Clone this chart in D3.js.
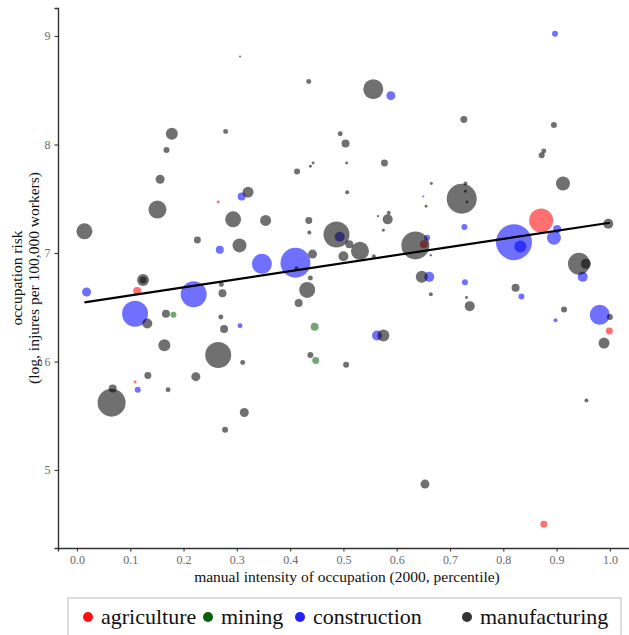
<!DOCTYPE html>
<html>
<head>
<meta charset="utf-8">
<script src="https://cdn.jsdelivr.net/npm/d3@7"></script>
<style>
  body { margin: 0; background: #fff; }
  svg { display: block; font-family: "Liberation Serif", "DejaVu Serif", serif; }
</style>
</head>
<body>
<svg id="chart" width="629" height="635"></svg>
<script>
// [manual intensity percentile, log risk, workers (thousands)]
const agriculture = [
  [0.265, 7.47, 22], [0.871, 7.30, 1440], [0.651, 7.08, 160], [0.113, 6.65, 160],
  [0.109, 5.81, 22], [0.999, 6.28, 122], [0.876, 4.50, 122]
];
const mining = [
  [0.181, 6.43, 90], [0.446, 6.32, 160], [0.448, 6.01, 122]
];
const construction = [
  [0.897, 9.02, 90], [0.589, 8.45, 202], [0.309, 7.52, 160], [0.268, 7.03, 160],
  [0.347, 6.90, 1000], [0.410, 6.91, 2250], [0.493, 7.15, 250], [0.650, 7.52, 10],
  [0.727, 7.24, 90], [0.820, 7.10, 3240], [0.832, 7.06, 360], [0.895, 7.14, 490],
  [0.901, 7.22, 160], [0.657, 7.14, 90], [0.949, 6.78, 250], [0.661, 6.78, 250],
  [0.018, 6.64, 202], [0.109, 6.44, 1690], [0.219, 6.62, 1690], [0.306, 6.33, 62],
  [0.114, 5.74, 90], [0.728, 6.73, 90], [0.834, 6.60, 90], [0.898, 6.38, 40],
  [0.981, 6.43, 1000], [0.563, 6.24, 250]
];
const manufacturing = [
  [0.306, 8.81, 10], [0.435, 8.58, 62], [0.178, 8.10, 360], [0.168, 7.95, 90],
  [0.279, 8.12, 62], [0.156, 7.68, 202], [0.151, 7.40, 810], [0.014, 7.20, 640],
  [0.321, 7.56, 302], [0.293, 7.31, 640], [0.354, 7.30, 302], [0.226, 7.12, 122],
  [0.305, 7.07, 490], [0.442, 6.99, 202], [0.435, 7.30, 122], [0.436, 7.19, 40],
  [0.413, 7.75, 90], [0.438, 7.80, 22], [0.443, 7.83, 22], [0.494, 8.10, 62],
  [0.504, 8.01, 160], [0.506, 7.83, 22], [0.507, 7.56, 40], [0.487, 7.17, 1690],
  [0.500, 6.97, 250], [0.124, 6.75, 360], [0.124, 6.75, 122], [0.556, 8.51, 1000],
  [0.726, 8.23, 122], [0.895, 8.18, 90], [0.876, 7.94, 62], [0.872, 7.90, 90],
  [0.577, 7.83, 122], [0.665, 7.64, 22], [0.912, 7.64, 490], [0.722, 7.50, 2250],
  [0.729, 7.64, 40], [0.729, 7.57, 22], [0.732, 7.47, 22], [0.655, 7.43, 22],
  [0.583, 7.31, 250], [0.585, 7.37, 40], [0.565, 7.34, 14], [0.575, 7.21, 22],
  [0.997, 7.27, 250], [0.635, 7.07, 1960], [0.531, 7.02, 810], [0.557, 6.97, 40],
  [0.664, 6.98, 14], [0.942, 6.90, 1210], [0.955, 6.90, 250], [0.647, 6.78, 360],
  [0.511, 7.08, 160], [0.412, 6.86, 40], [0.438, 6.77, 62], [0.432, 6.66, 640],
  [0.416, 6.54, 160], [0.271, 6.71, 62], [0.273, 6.63, 160], [0.132, 6.35, 250],
  [0.167, 6.44, 160], [0.270, 6.41, 62], [0.276, 6.30, 160], [0.164, 6.15, 360],
  [0.265, 6.06, 1690], [0.311, 5.99, 62], [0.438, 6.06, 90], [0.505, 5.97, 90],
  [0.133, 5.87, 122], [0.223, 5.86, 202], [0.171, 5.74, 62], [0.065, 5.62, 1960],
  [0.067, 5.75, 160], [0.314, 5.53, 202], [0.278, 5.37, 90], [0.664, 6.62, 40],
  [0.731, 6.59, 22], [0.737, 6.51, 250], [0.823, 6.68, 160], [0.914, 6.48, 90],
  [1.000, 6.41, 90], [0.989, 6.17, 302], [0.575, 6.24, 360], [0.956, 5.64, 40],
  [0.653, 4.87, 202]
];

const categories = ["agriculture", "mining", "construction", "manufacturing"];
const categoryColors = ["#ff0000", "#006400", "#0000ff", "#000000"];
const legendColors = ["#ff1010", "#0b5e0b", "#2020ff", "#333333"];

// fitted line
const fitIntercept = 6.535;
const fitSlope = 0.744;

const xTicks = [0, 0.1, 0.2, 0.3, 0.4, 0.5, 0.6, 0.7, 0.8, 0.9, 1.0];
const yTicks = [5, 6, 7, 8, 9];

const series = [agriculture, mining, construction, manufacturing];
const points = [];
series.forEach((arr, i) => arr.forEach(d => points.push({ cat: i, x: d[0], y: d[1], w: d[2] })));

const svg = d3.select("#chart");

const x = d3.scaleLinear().domain([-0.0356, 1.049]).range([58, 636]);
const y = d3.scaleLinear().domain([4.281, 9.258]).range([548, 8]);
const r = d3.scaleSqrt().domain([0, 3240]).range([0, 18]);

// points
svg.append("g")
  .selectAll("circle")
  .data(points)
  .join("circle")
  .attr("cx", d => x(d.x))
  .attr("cy", d => y(d.y))
  .attr("r", d => r(d.w))
  .attr("fill", d => categoryColors[d.cat])
  .attr("fill-opacity", 0.56);

// fit line
const fitX = d3.extent(points, d => d.x);
svg.append("line")
  .attr("x1", x(fitX[0]))
  .attr("y1", y(fitIntercept + fitSlope * fitX[0]))
  .attr("x2", x(fitX[1]))
  .attr("y2", y(fitIntercept + fitSlope * fitX[1]))
  .attr("stroke", "#000")
  .attr("stroke-width", 2.2);

// axes
const xAxis = svg.append("g")
  .attr("transform", "translate(0,548)")
  .call(d3.axisBottom(x).tickValues(xTicks).tickFormat(d3.format(".1f")).tickSize(3.5).tickPadding(4));
const yAxis = svg.append("g")
  .attr("transform", "translate(58,0)")
  .call(d3.axisLeft(y).tickValues(yTicks).tickFormat(d3.format("d")).tickSize(3.5).tickPadding(4));

[xAxis, yAxis].forEach(a => {
  a.select(".domain").attr("stroke", "#333").attr("stroke-width", 1.4);
  a.selectAll(".tick line").attr("stroke", "#333").attr("stroke-width", 1.1);
  a.selectAll(".tick text").attr("fill", "#6a6a6a").attr("font-size", 12)
    .attr("font-family", "Liberation Serif");
});

// axis titles, centred on the panel
const panelMidX = (58 + 636) / 2;
const panelMidY = (8 + 548) / 2;
svg.append("text")
  .attr("x", panelMidX).attr("y", 582)
  .attr("text-anchor", "middle")
  .attr("font-size", 15.5)
  .attr("fill", "#111")
  .text("manual intensity of occupation (2000, percentile)");

svg.append("text")
  .attr("transform", `translate(22,${panelMidY}) rotate(-90)`)
  .attr("text-anchor", "middle")
  .attr("font-size", 15.5)
  .attr("fill", "#111")
  .text("occupation risk");
svg.append("text")
  .attr("transform", `translate(39,${panelMidY}) rotate(-90)`)
  .attr("text-anchor", "middle")
  .attr("font-size", 15.5)
  .attr("fill", "#111")
  .text("(log, injures per 100,000 workers)");

// legend
const legend = svg.append("g");
legend.append("rect")
  .attr("x", 68).attr("y", 598)
  .attr("width", 553).attr("height", 50)
  .attr("fill", "#fff")
  .attr("stroke", "#bbb")
  .attr("stroke-width", 1);

const legendX = [88, 208, 300, 467];
categories.forEach((c, i) => {
  legend.append("circle")
    .attr("cx", legendX[i]).attr("cy", 617)
    .attr("r", 5)
    .attr("fill", legendColors[i]);
  legend.append("text")
    .attr("x", legendX[i] + 13).attr("y", 624)
    .attr("font-size", 22)
    .attr("fill", "#111")
    .text(c);
});
</script>
</body>
</html>
